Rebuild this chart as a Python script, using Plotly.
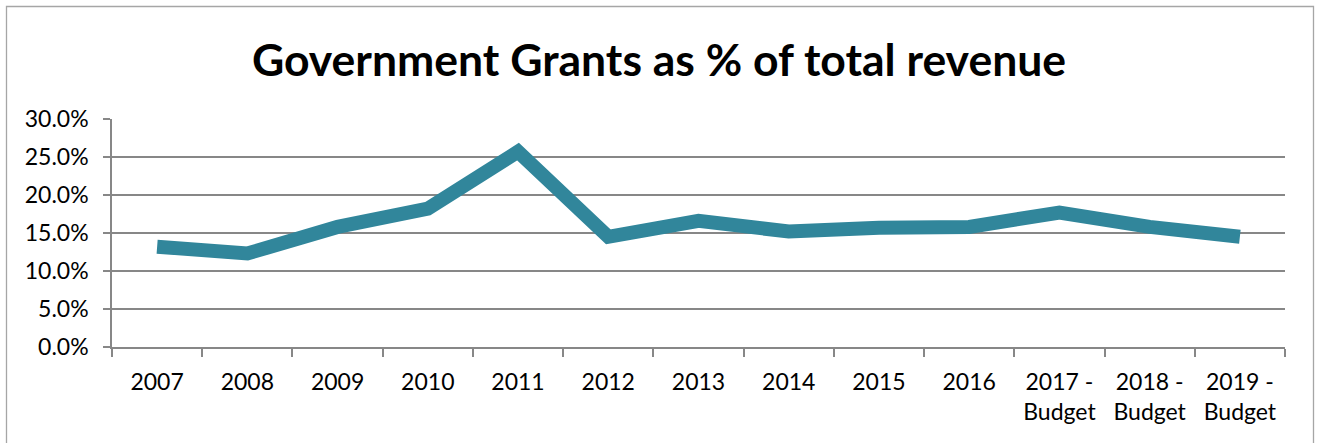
import plotly.graph_objects as go

# Category labels and grant share of total revenue (%)
years = ["2007", "2008", "2009", "2010", "2011", "2012", "2013", "2014",
         "2015", "2016", "2017 -<br>Budget", "2018 -<br>Budget", "2019 -<br>Budget"]
grant_share = [13.2, 12.3, 15.8, 18.2, 25.7, 14.5, 16.6, 15.2,
               15.7, 15.8, 17.7, 15.8, 14.5]
y_ticks = [0, 5, 10, 15, 20, 25, 30]
y_tick_text = ["0.0%", "5.0%", "10.0%", "15.0%", "20.0%", "25.0%", "30.0%"]

W, H = 1318, 443
ML, MR, MT, MB = 112, 33, 119, 96
FONT = "Lato"
GRID = "#878787"

fig = go.Figure(
    go.Scatter(
        x=years,
        y=grant_share,
        mode="lines",
        line=dict(color="#31869b", width=14),
        hoverinfo="skip",
    )
)

# outer chart frame, expressed in paper coordinates of the plot area
pw, ph = W - ML - MR, H - MT - MB
def px_to_paper_x(px):
    return (px - ML) / pw
def px_to_paper_y(py):
    return (H - MB - py) / ph

fig.add_shape(
    type="rect", xref="paper", yref="paper",
    x0=px_to_paper_x(6.5), x1=px_to_paper_x(1313.5),
    y0=px_to_paper_y(460), y1=px_to_paper_y(6.5),
    line=dict(color="#a6a6a6", width=1.3), fillcolor="rgba(0,0,0,0)",
    layer="below",
)

fig.update_layout(
    width=W, height=H,
    margin=dict(l=ML, r=MR, t=MT, b=MB, pad=0),
    paper_bgcolor="white", plot_bgcolor="white",
    showlegend=False,
    font=dict(family=FONT, color="#000000", size=23),
    title=dict(
        text="<b>Government Grants as % of total revenue</b>",
        x=0.5, xref="container", xanchor="center",
        y=1 - 60 / H, yanchor="middle", yref="container",
        font=dict(family=FONT, size=44.5, color="#000000"),
    ),
    xaxis=dict(
        type="category",
        range=[-0.5, len(years) - 0.5],
        tickson="boundaries",
        ticks="outside", ticklen=8, tickcolor=GRID, tickwidth=1.5,
        showline=True, linecolor=GRID, linewidth=1.5,
        showgrid=False, zeroline=False,
        tickfont=dict(family=FONT, size=23, color="#000000"),
        ticklabelstandoff=14,
    ),
    yaxis=dict(
        range=[0, 30],
        tickvals=y_ticks, ticktext=y_tick_text,
        ticks="outside", ticklen=7, tickcolor=GRID, tickwidth=1.5,
        showline=True, linecolor=GRID, linewidth=1.5,
        showgrid=True, gridcolor=GRID, gridwidth=1.5,
        zeroline=False,
        tickfont=dict(family=FONT, size=23, color="#000000"),
        ticklabelstandoff=10,
    ),
)

fig.write_html("out.html")
